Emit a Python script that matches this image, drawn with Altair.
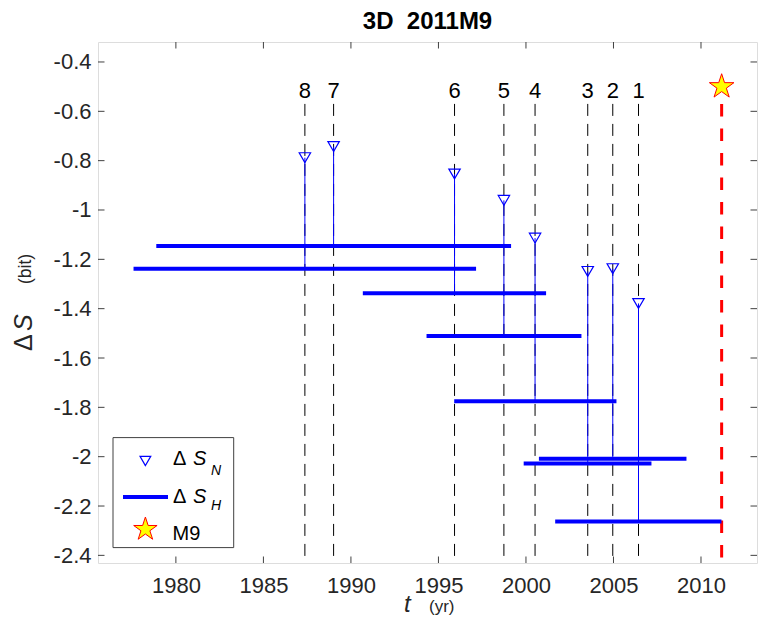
import math
import altair as alt
import pandas as pd

# ---------------- data ----------------
labels = ["1", "2", "3", "4", "5", "6", "7", "8"]
t_N = [2006.43, 2004.96, 2003.53, 2000.52, 1998.74, 1995.92, 1989.01, 1987.37]
dS_N = [-1.379, -1.238, -1.249, -1.114, -0.961, -0.854, -0.743, -0.788]
dS_H = [-2.263, -2.008, -2.028, -1.775, -1.511, -1.338, -1.146, -1.238]
h_start = [2001.67, 2000.74, 1999.87, 1995.90, 1994.32, 1990.68, 1978.88, 1977.58]
h_end = [2011.17, 2009.17, 2007.17, 2005.17, 2003.17, 2001.15, 1999.15, 1997.15]

eq_time = [2011.18]
eq_level = [-0.5]
label_level = -0.5
line_top = -0.57

x_ticks = [1980, 1985, 1990, 1995, 2000, 2005, 2010]
y_ticks = [-2.4, -2.2, -2.0, -1.8, -1.6, -1.4, -1.2, -1.0, -0.8, -0.6, -0.4]
x_domain = [1975.55, 2013.2]
y_domain = [-2.431, -0.319]

# ---------------- styling ----------------
W, H = 659, 521
FONT = "Liberation Sans"
AX = "#404040"
TXT = "#262626"
BLUE = "#0000FF"

df = pd.DataFrame({"label": labels, "tN": t_N, "SN": dS_N, "SH": dS_H,
                   "t0": h_start, "t1": h_end})
df["top"] = line_top
df["laby"] = label_level
eq = pd.DataFrame({"t": eq_time, "v": eq_level, "top": line_top})
xt = pd.DataFrame({"xt": x_ticks})
yt = pd.DataFrame({"yt": y_ticks})
one = alt.Data(values=[{"a": 1}])

xs = alt.Scale(domain=x_domain, nice=False, zero=False)
ys = alt.Scale(domain=y_domain, nice=False, zero=False)

XA = alt.Axis(values=x_ticks, format="d", title=None, grid=False, domain=False,
              ticks=False, labelFont=FONT, labelFontSize=22, labelColor=TXT,
              labelPadding=12)
YA = alt.Axis(values=y_ticks, labelExpr="'' + datum.value", title=None, grid=False,
              domain=False, ticks=False, labelFont=FONT, labelFontSize=22,
              labelColor=TXT, labelPadding=7)


def X(f):
    return alt.X(f, scale=xs, axis=XA)


def Y(f):
    return alt.Y(f, scale=ys, axis=YA)


# pentagram path in unit coordinates
pts = []
for k in range(10):
    ang = math.radians(-90 + 36 * k)
    r = 1.0 if k % 2 == 0 else 0.382
    pts.append((r * math.cos(ang), r * math.sin(ang)))
STAR = "M" + "L".join(f"{px:.4f},{py:.4f}" for px, py in pts) + "Z"

base = alt.Chart(df)

dashed = base.mark_rule(color="black", strokeWidth=1, strokeDash=[12, 8]).encode(
    x=X("tN:Q"), y=Y("top:Q"), y2=alt.value(H))

red = alt.Chart(eq).mark_rule(color="#FF0000", strokeWidth=3, strokeDash=[12.5, 12]).encode(
    x=X("t:Q"), y=Y("top:Q"), y2=alt.value(H))

stems = base.mark_rule(color=BLUE, strokeWidth=1).encode(
    x=X("tN:Q"), y=Y("SN:Q"), y2="SH:Q")

bars = base.mark_rule(color=BLUE, strokeWidth=4, strokeCap="butt").encode(
    x=X("t0:Q"), x2="t1:Q", y=Y("SH:Q"))

tri = base.mark_point(shape="triangle-down", filled=False, color=BLUE, size=130,
                      strokeWidth=1.2, opacity=1).encode(x=X("tN:Q"), y=Y("SN:Q"))

nums = base.mark_text(font=FONT, fontSize=22, color="black", align="center",
                      baseline="alphabetic", dy=11).encode(
    x=X("tN:Q"), y=Y("laby:Q"), text="label:N")

star = alt.Chart(eq).mark_point(shape=STAR, filled=True, fill="#FFFF00", stroke="#FF0000",
                                strokeWidth=1, size=666, opacity=1).encode(
    x=X("t:Q"), y=Y("v:Q"))

# inward ticks on all four sides
TL = 6.5
tick_b = alt.Chart(xt).mark_rule(color=AX, strokeWidth=1).encode(
    x=X("xt:Q"), y=alt.value(H), y2=alt.value(H - TL))
tick_t = alt.Chart(xt).mark_rule(color=AX, strokeWidth=1).encode(
    x=X("xt:Q"), y=alt.value(0), y2=alt.value(TL))
tick_l = alt.Chart(yt).mark_rule(color=AX, strokeWidth=1).encode(
    y=Y("yt:Q"), x=alt.value(0), x2=alt.value(TL))
tick_r = alt.Chart(yt).mark_rule(color=AX, strokeWidth=1).encode(
    y=Y("yt:Q"), x=alt.value(W), x2=alt.value(W - TL))


def txt(s, x, y, size, color=TXT, align="left", angle=None, style=None, weight=None):
    kw = dict(text=s, font=FONT, fontSize=size, color=color, align=align,
              baseline="alphabetic")
    if angle is not None:
        kw["angle"] = angle
    if style is not None:
        kw["fontStyle"] = style
    if weight is not None:
        kw["fontWeight"] = weight
    return alt.Chart(one).mark_text(**kw).encode(x=alt.value(x), y=alt.value(y))


# legend
leg_box = alt.Chart(one).mark_rect(fill="white", stroke=AX, strokeWidth=1).encode(
    x=alt.value(15), x2=alt.value(135.7), y=alt.value(395.6), y2=alt.value(505.6))
leg_tri = alt.Chart(one).mark_point(shape="triangle-down", filled=False, color=BLUE,
                                    size=115, strokeWidth=1.2, opacity=1).encode(
    x=alt.value(47.4), y=alt.value(419))
leg_line = alt.Chart(one).mark_rule(color=BLUE, strokeWidth=4, strokeCap="butt").encode(
    x=alt.value(25), x2=alt.value(70), y=alt.value(455))
leg_star = alt.Chart(one).mark_point(shape=STAR, filled=True, fill="#FFFF00",
                                     stroke="#FF0000", strokeWidth=1, size=605,
                                     opacity=1).encode(
    x=alt.value(47.4), y=alt.value(487.3))

legend_text = [
    txt("Δ", 75, 423.3, 20, color="black"),
    txt("S", 95, 423.3, 20, color="black", style="italic"),
    txt("N", 113, 433.3, 14, color="black", style="italic"),
    txt("Δ", 75, 461, 20, color="black"),
    txt("S", 95, 461, 20, color="black", style="italic"),
    txt("H", 113, 468.3, 14, color="black", style="italic"),
    txt("M9", 74.5, 498.3, 20, color="black"),
]

titles = [
    txt("3D\u00a0 2011M9", W / 2, -13.4, 24, color="black", align="center", weight="bold"),
    txt("t", 306, 570, 24, style="italic"),
    txt("(yr)", 331, 570, 17),
    txt("Δ", -66.3, 309, 25, angle=270),
    txt("S", -66.3, 289, 25, angle=270, style="italic"),
    txt("(bit)", -67.5, 242, 17.5, angle=270),
]

chart = alt.layer(
    dashed, red, stems, bars, tri, nums, star,
    tick_b, tick_t, tick_l, tick_r,
    leg_box, leg_tri, leg_line, leg_star, *legend_text, *titles,
).properties(
    width=W, height=H,
    autosize=alt.AutoSizeParams(type="none"),
    padding={"left": 98, "top": 42, "right": 3, "bottom": 63},
).configure_view(
    stroke=AX, strokeWidth=1,
).configure(background="white")

chart.save("out.html", embed_options={"renderer": "svg", "actions": False})
